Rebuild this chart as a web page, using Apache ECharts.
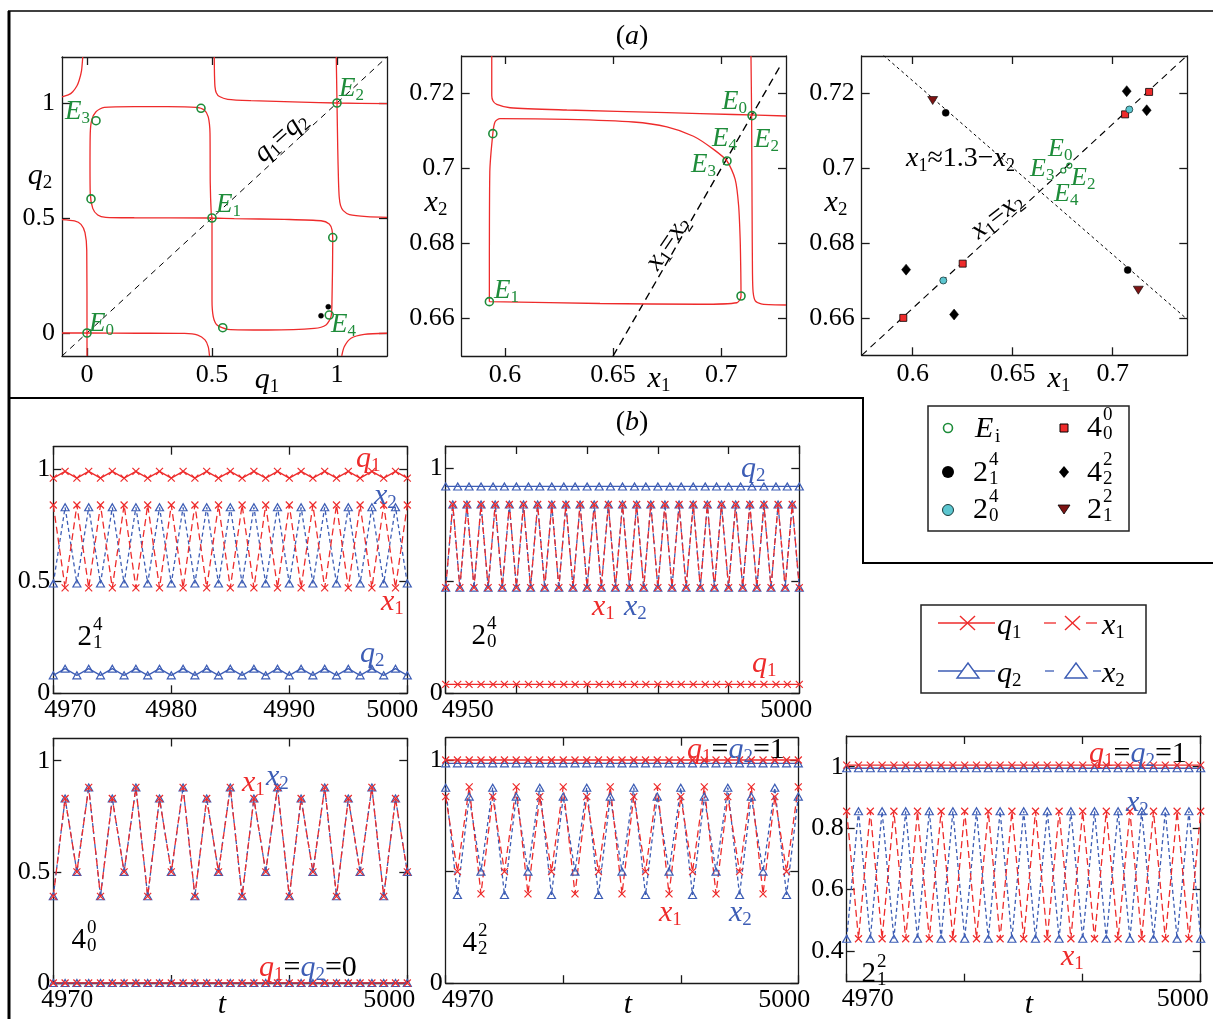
<!DOCTYPE html>
<html><head><meta charset="utf-8">
<script src="https://cdn.jsdelivr.net/npm/echarts@6/dist/echarts.min.js"></script>
<style>html,body{margin:0;padding:0;background:#fff;}#c{width:1213px;height:1019px;}</style>
</head><body><div id="c"></div>
<script>
// ===================== DATA =====================
// Panel (a) left: q1-q2 plane
const a1Diag = [[-0.1,-0.1],[1.2,1.2]];
const a1Curve1 = [[-0.1,1.027],[-0.075,1.035],[-0.057,1.049],[-0.04,1.075],[-0.031,1.1],[-0.022,1.14],[-0.017,1.2]];
const a1Curve2 = [[0.509,1.2],[0.51,1.12],[0.512,1.07],[0.517,1.045],[0.53,1.028],[0.563,1.016],[0.656,1.01],[0.856,1.004],[1.0,1.0],[1.2,0.997]];
const a1Curve3 = [[0.997,1.2],[1.0,1.0],[1.003,0.8],[1.006,0.66],[1.009,0.59],[1.014,0.555],[1.025,0.532],[1.05,0.515],[1.12,0.506],[1.2,0.503]];
const a1Curve4 = [[0.5,0.5],[0.189,0.501],[0.075,0.503],[0.043,0.513],[0.023,0.542],[0.013,0.607],[0.012,0.72],[0.013,0.868],[0.019,0.926],[0.036,0.962],[0.069,0.981],[0.189,0.984],[0.322,0.984],[0.436,0.981],[0.469,0.97],[0.485,0.94],[0.492,0.868],[0.493,0.651],[0.497,0.519],[0.5,0.5],[0.5,0.433],[0.5,0.143],[0.505,0.071],[0.52,0.035],[0.563,0.016],[0.723,0.013],[0.909,0.02],[0.956,0.035],[0.976,0.071],[0.98,0.143],[0.983,0.404],[0.98,0.448],[0.969,0.474],[0.936,0.488],[0.789,0.494],[0.589,0.497],[0.5,0.5]];
const a1Curve5 = [[-0.1,0],[0,0],[0.2,-0.001],[0.39,-0.002],[0.443,-0.009],[0.472,-0.03],[0.485,-0.06],[0.49,-0.1]];
const a1Curve6 = [[-0.1,0.493],[-0.05,0.487],[-0.024,0.472],[-0.008,0.436],[-0.001,0.36],[0,0],[0,-0.1]];
const a1Curve7 = [[1.019,-0.1],[1.029,-0.06],[1.056,-0.023],[1.109,-0.006],[1.2,-0.001]];
const a1Equilibria = [[0,0],[0.5,0.5],[1,1],[0.036,0.923],[0.456,0.977],[0.016,0.583],[0.983,0.415],[0.543,0.023],[0.969,0.078]];
const a1Dots = [[0.965,0.114],[0.936,0.075]];
const a1Ticks = [0,0.5,1];

// Panel (a) middle: x1-x2 plane
const a2Diag = [[0.65,0.65],[0.728,0.728]];
const a2Curve1 = [[0.5939,0.73],[0.5939,0.7195],[0.5945,0.7180],[0.5962,0.7171],[0.6024,0.7162],[0.6286,0.7156],[0.6749,0.7149],[0.7057,0.7144],[0.7301,0.714]];
const a2Curve2 = [[0.7138,0.73],[0.7141,0.714],[0.7143,0.69],[0.7145,0.672],[0.7148,0.667],[0.7158,0.6647],[0.7185,0.6639],[0.722,0.6637],[0.73,0.6636]];
const a2Curve3 = [[0.5928,0.6645],[0.5928,0.6723],[0.593,0.699],[0.5944,0.7093],[0.5954,0.7124],[0.5977,0.7133],[0.6286,0.7131],[0.6594,0.7124],[0.6749,0.7111],[0.6872,0.7086],[0.6965,0.7051],[0.7027,0.702],[0.7065,0.6971],[0.7081,0.69],[0.7088,0.6811],[0.7091,0.6722],[0.7092,0.666],[0.7073,0.6642],[0.6903,0.6638],[0.644,0.664],[0.5928,0.6645]];
const a2Equilibria = [[0.5928,0.6645],[0.5944,0.7093],[0.7027,0.702],[0.7092,0.666],[0.7143,0.7141]];
const a2XTicks = [0.6,0.65,0.7];
const a2YTicks = [0.66,0.68,0.7,0.72];

// Panel (a) right: attractors
const a3LineEq = [[0.5745,0.65],[0.7373,0.7302]];
const a3LineAnti = [[0.5853,0.7302],[0.7373,0.6596]];
const a3Eq = [[0.6753,0.6994],[0.6783,0.7007]];
const a3P4_0_0 = [[0.5953,0.66],[0.625,0.6745],[0.7062,0.7144],[0.7182,0.7204]];
const a3P2_0_4 = [[0.6153,0.67],[0.7083,0.7157]];
const a3P4_2_2 = [[0.5967,0.6729],[0.6207,0.6609],[0.707,0.7206],[0.717,0.7155]];
const a3P2_1_4 = [[0.6165,0.7148],[0.7075,0.6728]];
const a3P2_1_2 = [[0.61,0.7181],[0.7128,0.6674]];

// Panel (b) time series
const tB = [4970,4971,4972,4973,4974,4975,4976,4977,4978,4979,4980,4981,4982,4983,4984,4985,4986,4987,4988,4989,4990,4991,4992,4993,4994,4995,4996,4997,4998,4999,5000];
const tB2 = [4950,4951,4952,4953,4954,4955,4956,4957,4958,4959,4960,4961,4962,4963,4964,4965,4966,4967,4968,4969,4970,4971,4972,4973,4974,4975,4976,4977,4978,4979,4980,4981,4982,4983,4984,4985,4986,4987,4988,4989,4990,4991,4992,4993,4994,4995,4996,4997,4998,4999,5000];
const tB2q = [4950,4951.7,4953.3,4955,4956.7,4958.3,4960,4961.7,4963.3,4965,4966.7,4968.3,4970,4971.7,4973.3,4975,4976.7,4978.3,4980,4981.7,4983.3,4985,4986.7,4988.3,4990,4991.7,4993.3,4995,4996.7,4998.3,5000];

// 2_1^4
const b1q1 = [0.96,0.99,0.96,0.99,0.96,0.99,0.96,0.99,0.96,0.99,0.96,0.99,0.96,0.99,0.96,0.99,0.96,0.99,0.96,0.99,0.96,0.99,0.96,0.99,0.96,0.99,0.96,0.99,0.96,0.99,0.96];
const b1x1 = [0.84,0.47,0.84,0.47,0.84,0.47,0.84,0.47,0.84,0.47,0.84,0.47,0.84,0.47,0.84,0.47,0.84,0.47,0.84,0.47,0.84,0.47,0.84,0.47,0.84,0.47,0.84,0.47,0.84,0.47,0.84];
const b1x2 = [0.49,0.83,0.49,0.83,0.49,0.83,0.49,0.83,0.49,0.83,0.49,0.83,0.49,0.83,0.49,0.83,0.49,0.83,0.49,0.83,0.49,0.83,0.49,0.83,0.49,0.83,0.49,0.83,0.49,0.83,0.49];
const b1q2 = [0.08,0.11,0.08,0.11,0.08,0.11,0.08,0.11,0.08,0.11,0.08,0.11,0.08,0.11,0.08,0.11,0.08,0.11,0.08,0.11,0.08,0.11,0.08,0.11,0.08,0.11,0.08,0.11,0.08,0.11,0.08];
// 2_0^4
const b2x1 = [0.47,0.84,0.47,0.84,0.47,0.84,0.47,0.84,0.47,0.84,0.47,0.84,0.47,0.84,0.47,0.84,0.47,0.84,0.47,0.84,0.47,0.84,0.47,0.84,0.47,0.84,0.47,0.84,0.47,0.84,0.47,0.84,0.47,0.84,0.47,0.84,0.47,0.84,0.47,0.84,0.47,0.84,0.47,0.84,0.47,0.84,0.47,0.84,0.47,0.84,0.47];
const b2x2 = [0.47,0.84,0.47,0.84,0.47,0.84,0.47,0.84,0.47,0.84,0.47,0.84,0.47,0.84,0.47,0.84,0.47,0.84,0.47,0.84,0.47,0.84,0.47,0.84,0.47,0.84,0.47,0.84,0.47,0.84,0.47,0.84,0.47,0.84,0.47,0.84,0.47,0.84,0.47,0.84,0.47,0.84,0.47,0.84,0.47,0.84,0.47,0.84,0.47,0.84,0.47];
const b2q1 = [0.04,0.04,0.04,0.04,0.04,0.04,0.04,0.04,0.04,0.04,0.04,0.04,0.04,0.04,0.04,0.04,0.04,0.04,0.04,0.04,0.04,0.04,0.04,0.04,0.04,0.04,0.04,0.04,0.04,0.04,0.04];
const b2q2 = [0.92,0.92,0.92,0.92,0.92,0.92,0.92,0.92,0.92,0.92,0.92,0.92,0.92,0.92,0.92,0.92,0.92,0.92,0.92,0.92,0.92,0.92,0.92,0.92,0.92,0.92,0.92,0.92,0.92,0.92,0.92];
// 4_0^0
const b3x1 = [0.39,0.83,0.5,0.88,0.39,0.83,0.5,0.88,0.39,0.83,0.5,0.88,0.39,0.83,0.5,0.88,0.39,0.83,0.5,0.88,0.39,0.83,0.5,0.88,0.39,0.83,0.5,0.88,0.39,0.83,0.5];
const b3x2 = [0.39,0.83,0.5,0.88,0.39,0.83,0.5,0.88,0.39,0.83,0.5,0.88,0.39,0.83,0.5,0.88,0.39,0.83,0.5,0.88,0.39,0.83,0.5,0.88,0.39,0.83,0.5,0.88,0.39,0.83,0.5];
const b3q1 = [0,0,0,0,0,0,0,0,0,0,0,0,0,0,0,0,0,0,0,0,0,0,0,0,0,0,0,0,0,0,0];
const b3q2 = [0,0,0,0,0,0,0,0,0,0,0,0,0,0,0,0,0,0,0,0,0,0,0,0,0,0,0,0,0,0,0];
// 4_2^2
const b4x1 = [0.836,0.5,0.88,0.4,0.836,0.5,0.88,0.4,0.836,0.5,0.88,0.4,0.836,0.5,0.88,0.4,0.836,0.5,0.88,0.4,0.836,0.5,0.88,0.4,0.836,0.5,0.88,0.4,0.836,0.5,0.88];
const b4x2 = [0.876,0.395,0.836,0.5,0.876,0.395,0.836,0.5,0.876,0.395,0.836,0.5,0.876,0.395,0.836,0.5,0.876,0.395,0.836,0.5,0.876,0.395,0.836,0.5,0.876,0.395,0.836,0.5,0.876,0.395,0.836];
const b4q1 = [1,1,1,1,1,1,1,1,1,1,1,1,1,1,1,1,1,1,1,1,1,1,1,1,1,1,1,1,1,1,1];
const b4q2 = [0.985,0.985,0.985,0.985,0.985,0.985,0.985,0.985,0.985,0.985,0.985,0.985,0.985,0.985,0.985,0.985,0.985,0.985,0.985,0.985,0.985,0.985,0.985,0.985,0.985,0.985,0.985,0.985,0.985,0.985,0.985];
// 2_1^2
const b5x1 = [0.855,0.44,0.855,0.44,0.855,0.44,0.855,0.44,0.855,0.44,0.855,0.44,0.855,0.44,0.855,0.44,0.855,0.44,0.855,0.44,0.855,0.44,0.855,0.44,0.855,0.44,0.855,0.44,0.855,0.44,0.855];
const b5x2 = [0.44,0.855,0.44,0.855,0.44,0.855,0.44,0.855,0.44,0.855,0.44,0.855,0.44,0.855,0.44,0.855,0.44,0.855,0.44,0.855,0.44,0.855,0.44,0.855,0.44,0.855,0.44,0.855,0.44,0.855,0.44];
const b5q1 = [1.005,1.005,1.005,1.005,1.005,1.005,1.005,1.005,1.005,1.005,1.005,1.005,1.005,1.005,1.005,1.005,1.005,1.005,1.005,1.005,1.005,1.005,1.005,1.005,1.005,1.005,1.005,1.005,1.005,1.005,1.005];
const b5q2 = [0.995,0.995,0.995,0.995,0.995,0.995,0.995,0.995,0.995,0.995,0.995,0.995,0.995,0.995,0.995,0.995,0.995,0.995,0.995,0.995,0.995,0.995,0.995,0.995,0.995,0.995,0.995,0.995,0.995,0.995,0.995];

// ===================== STYLE / LAYOUT =====================
const SERIF = '"Liberation Serif","DejaVu Serif",serif';
const RED = '#ee2b2b', BLUE = '#3d5db5', GREEN = '#1e8c3a', DARKRED = '#7d1414', CYAN = '#5cc6d0', INK = '#1a1a1a';
const CROSS = 'path://M0,0L10,10M0,10L10,0';

const grids = [], xAxes = [], yAxes = [], series = [], graphics = [];

function addPanel(box, xr, yr, xt, xl, yt, yl, o) {
  const gi = grids.length;
  grids.push({left: box[0], top: box[1], width: box[2], height: box[3], show: false});
  const line = {show: true, onZero: false, lineStyle: {color: INK, width: 1.3}};
  const tick = v => ({show: true, inside: true, length: 8, customValues: v, lineStyle: {color: INK, width: 1.3}});
  const sMin = o.sMin || 0, sMax = o.sMax || 0;
  const labStyle = {fontFamily: SERIF, fontSize: o.fs, color: '#000'};
  xAxes.push({gridIndex: gi, type: 'value', position: 'bottom', min: xr[0], max: xr[1],
    axisLine: line, axisTick: tick(xt), splitLine: {show: false},
    axisLabel: Object.assign({show: true, customValues: xl, margin: o.xm || 5,
      formatter: v => (v === xl[0] && sMin) ? '{l|' + v + '}' : (v === xl[xl.length - 1] && sMax) ? '{r|' + v + '}' : String(v),
      rich: {l: Object.assign({padding: [0, 0, 0, 2 * sMin]}, labStyle), r: Object.assign({padding: [0, 2 * sMax, 0, 0]}, labStyle)}
    }, labStyle)});
  xAxes.push({gridIndex: gi, type: 'value', position: 'top', min: xr[0], max: xr[1],
    axisLine: line, axisTick: tick(xt), axisLabel: {show: false}, splitLine: {show: false}});
  yAxes.push({gridIndex: gi, type: 'value', position: 'left', min: yr[0], max: yr[1],
    axisLine: line, axisTick: tick(yt), splitLine: {show: false},
    axisLabel: Object.assign({show: true, customValues: yl, margin: o.ym || 5}, labStyle)});
  yAxes.push({gridIndex: gi, type: 'value', position: 'right', min: yr[0], max: yr[1],
    axisLine: line, axisTick: tick(yt), axisLabel: {show: false}, splitLine: {show: false}});
  return 2 * gi;
}

function lineS(ax, data, color, width, dash, z, smooth) {
  series.push({type: 'line', xAxisIndex: ax, yAxisIndex: ax, data: data, showSymbol: false, smooth: smooth || 0,
    lineStyle: {color: color, width: width, type: dash || 'solid'}, z: z || 2, silent: true});
}
function scatS(ax, data, symbol, size, fill, stroke, bw, rot, z) {
  series.push({type: 'scatter', xAxisIndex: ax, yAxisIndex: ax, data: data, symbol: symbol, symbolSize: size,
    symbolRotate: rot || 0, itemStyle: {color: fill, borderColor: stroke, borderWidth: bw, opacity: 1}, z: z || 5, silent: true});
}
function zip(t, v) { return t.map((x, i) => [x, v[i]]); }
function tsS(ax, t, v, color, dash, sym, size) {
  series.push({type: 'line', xAxisIndex: ax, yAxisIndex: ax, data: zip(t, v), showSymbol: true, showAllSymbol: true,
    symbol: sym, symbolSize: size, lineStyle: {color: color, width: 1.3, type: dash},
    itemStyle: {color: 'rgba(0,0,0,0)', borderColor: color, borderWidth: 1.2}, z: 3, silent: true});
}

// ---------- Panel (a) ----------
let ax = addPanel([62, 57, 325, 299], [-0.1, 1.2], [-0.1, 1.2], a1Ticks, a1Ticks, a1Ticks, a1Ticks, {fs: 26, xm: 6, ym: 7});
lineS(ax, a1Diag, '#000', 1, [6, 5], 1);
[a1Curve1, a1Curve2, a1Curve3, a1Curve4, a1Curve5, a1Curve6, a1Curve7].forEach(c => lineS(ax, c, RED, 1.3, 'solid', 2, 0.25));
scatS(ax, a1Equilibria, 'circle', 8, 'rgba(0,0,0,0)', GREEN, 1.6);
scatS(ax, a1Dots, 'circle', 5, '#000', '#000', 0.5);

ax = addPanel([461.7, 56, 324.3, 300], [0.58, 0.73], [0.65, 0.73], a2XTicks, a2XTicks, a2YTicks, a2YTicks, {fs: 26, xm: 6, ym: 7});
lineS(ax, a2Diag, '#000', 1.4, [8, 5], 1);
[a2Curve1, a2Curve2, a2Curve3].forEach(c => lineS(ax, c, RED, 1.3, 'solid', 2, 0.25));
scatS(ax, a2Equilibria, 'circle', 8, 'rgba(0,0,0,0)', GREEN, 1.6);

ax = addPanel([861.7, 56, 325.6, 299.3], [0.5745, 0.7373], [0.65, 0.73], a2XTicks, a2XTicks, a2YTicks, a2YTicks, {fs: 26, xm: 6, ym: 7});
lineS(ax, a3LineEq, '#000', 1.1, [7, 5], 1);
lineS(ax, a3LineAnti, '#000', 1, [3, 3], 1);
scatS(ax, a3P4_0_0, 'rect', 7, RED, '#000', 0.8);
scatS(ax, a3P2_0_4, 'circle', 7, CYAN, '#1a3a3a', 0.8);
scatS(ax, a3P4_2_2, 'diamond', [9, 11], '#000', '#000', 0.5);
scatS(ax, a3P2_1_4, 'circle', 7, '#000', '#000', 0.5);
scatS(ax, a3P2_1_2, 'triangle', [10, 8], DARKRED, '#000', 0.6, 180);
scatS(ax, a3Eq, 'circle', 5, 'rgba(0,0,0,0)', GREEN, 1.2);

// ---------- Panel (b) ----------
function bPanel(box, xr, xt, xl, yr, yt, yl, sMin, sMax, tq, q1, q2, tx, x1, x2) {
  const a = addPanel(box, xr, yr, xt, xl, yt, yl, {fs: 26, xm: 4, ym: 3, sMin: sMin, sMax: sMax});
  tsS(a, tq, q2, BLUE, 'solid', 'triangle', [8, 7]);
  tsS(a, tq, q1, RED, 'solid', CROSS, 7);
  tsS(a, tx, x2, BLUE, [4, 3], 'triangle', [8, 7]);
  tsS(a, tx, x1, RED, [7, 4], CROSS, 7);
}
const tk30 = [4970, 4980, 4990, 5000];
bPanel([53.3, 446.7, 354, 246.6], [4970, 5000], tk30, tk30, [0, 1.1], [0, 0.5, 1], [0, 0.5, 1], 17, 15, tB, b1q1, b1q2, tB, b1x1, b1x2);
bPanel([445.7, 446, 353.6, 247.3], [4950, 5000], [4950, 4960, 4970, 4980, 4990, 5000], [4950, 5000], [0, 1.1], [0, 0.5, 1], [0, 1], 22, 13, tB2q, b2q1, b2q2, tB2, b2x1, b2x2);
bPanel([53.3, 738.5, 354, 244.5], [4970, 5000], tk30, [4970, 5000], [0, 1.1], [0, 0.5, 1], [0, 0.5, 1], 14, 18, tB, b3q1, b3q2, tB, b3x1, b3x2);
bPanel([445.7, 737.7, 352.6, 245.5], [4970, 5000], tk30, [4970, 5000], [0, 1.1], [0, 0.5, 1], [0, 1], 22, 14, tB, b4q1, b4q2, tB, b4x1, b4x2);
bPanel([846.7, 736, 354, 245.7], [4970, 5000], tk30, [4970, 5000], [0.3, 1.1], [0.4, 0.6, 0.8, 1], [0.4, 0.6, 0.8, 1], 21, 18, tB, b5q1, b5q2, tB, b5x1, b5x2);

// ---------- Graphic: frames, texts, legends ----------
function R(size) {
  const sub = Math.round(size * 0.64), pad = Math.round(size * 0.5);
  const out = {};
  [['', '#000'], ['r', RED], ['b', BLUE], ['g', GREEN]].forEach(([p, c]) => {
    out[p + 'i'] = {fontFamily: SERIF, fontStyle: 'italic', fontSize: size, fill: c, color: c};
    out[p + 'n'] = {fontFamily: SERIF, fontSize: size, fill: c, color: c};
    out[p + 's'] = {fontFamily: SERIF, fontSize: sub, fill: c, color: c, padding: [pad, 0, 0, 0]};
  });
  return out;
}
function T(x, y, text, size, align, rot) {
  graphics.push({type: 'text', x: x, y: y, rotation: (rot || 0) * Math.PI / 180, z: 100, silent: true,
    style: {text: text, x: 0, y: 0, rich: R(size), fontFamily: SERIF, fontSize: size, fill: '#000',
      align: align || 'left', verticalAlign: 'middle'}});
}
function P(x, y, text, size, align, color, italic) {
  graphics.push({type: 'text', x: x, y: y, z: 100, silent: true,
    style: {text: text, x: 0, y: 0, fontFamily: SERIF, fontSize: size, fontStyle: italic ? 'italic' : 'normal', fill: color || '#000',
      align: align, verticalAlign: 'middle'}});
}
function stack(xr, cy, base, sup, sub, size) {
  const s = Math.round(size * 0.64);
  P(xr, cy, base, size, 'right');
  P(xr + 1, cy - size * 0.42, sup, s, 'left');
  P(xr + 1, cy + size * 0.2, sub, s, 'left');
}
function L(x1, y1, x2, y2, w, color, dash) {
  graphics.push({type: 'line', z: 100, silent: true, shape: {x1: x1, y1: y1, x2: x2, y2: y2},
    style: {stroke: color || '#000', lineWidth: w, lineDash: dash || null}});
}

// frames
L(8, 11, 1213, 11, 1.5);
L(9, 11, 9, 1019, 3);
L(8, 398, 864, 398, 2);
L(863, 398, 863, 564, 2);
L(863, 563, 1213, 563, 2);

// titles
T(632, 37, '{n|(}{i|a}{n|)}', 28, 'center');
T(632, 423, '{n|(}{i|b}{n|)}', 28, 'center');

// axis labels (a)
T(267, 380, '{i|q}{s|1}', 30, 'center');
T(40, 176, '{i|q}{s|2}', 30, 'center');
T(659, 379, '{i|x}{s|1}', 30, 'center');
T(436, 203, '{i|x}{s|2}', 30, 'center');
T(1059, 379, '{i|x}{s|1}', 30, 'center');
T(836, 203, '{i|x}{s|2}', 30, 'center');
// a1 labels
T(89, 324, '{gi|E}{gs|0}', 27);
T(216, 205, '{gi|E}{gs|1}', 27);
T(339, 89, '{gi|E}{gs|2}', 27);
T(65, 112, '{gi|E}{gs|3}', 27);
T(331, 325, '{gi|E}{gs|4}', 27);
T(281, 137, '{i|q}{s|1}{n|=}{i|q}{s|2}', 28, 'center', 42);
// a2 labels
T(722, 102, '{gi|E}{gs|0}', 27);
T(712, 139, '{gi|E}{gs|4}', 27);
T(754, 140, '{gi|E}{gs|2}', 27);
T(691, 165, '{gi|E}{gs|3}', 27);
T(494, 291, '{gi|E}{gs|1}', 27);
T(668, 243, '{i|x}{s|1}{n|=}{i|x}{s|2}', 28, 'center', 56);
// a3 labels
T(1048, 149, '{gi|E}{gs|0}', 26);
T(1030, 169, '{gi|E}{gs|3}', 26);
T(1071, 178, '{gi|E}{gs|2}', 26);
T(1054, 194, '{gi|E}{gs|4}', 26);
T(906, 159, '{i|x}{s|1}{n|≈1.3−}{i|x}{s|2}', 28);
T(997, 216, '{i|x}{s|1}{n|=}{i|x}{s|2}', 28, 'center', 38);

// b labels
T(356, 459, '{ri|q}{rs|1}', 30);
T(374, 496, '{bi|x}{bs|2}', 30);
T(381, 602, '{ri|x}{rs|1}', 30);
T(360, 654, '{bi|q}{bs|2}', 30);
stack(92, 637, '2', '4', '1', 29);

T(592, 607, '{ri|x}{rs|1}', 30);
T(624, 607, '{bi|x}{bs|2}', 30);
T(741, 469, '{bi|q}{bs|2}', 30);
T(752, 664, '{ri|q}{rs|1}', 30);
stack(486, 636, '2', '4', '0', 29);

T(242, 783, '{ri|x}{rs|1}', 30);
T(266, 777, '{bi|x}{bs|2}', 30);
T(259, 968, '{ri|q}{rs|1}{n|=}{bi|q}{bs|2}{n|=0}', 30);
stack(86, 940, '4', '0', '0', 29);
T(222, 1005, '{i|t}', 30, 'center');

T(687, 750, '{ri|q}{rs|1}{n|=}{bi|q}{bs|2}{n|=1}', 30);
T(659, 913, '{ri|x}{rs|1}', 30);
T(729, 913, '{bi|x}{bs|2}', 30);
stack(477, 943, '4', '2', '2', 29);
T(628, 1005, '{i|t}', 30, 'center');

T(1089, 754, '{ri|q}{rs|1}{n|=}{bi|q}{bs|2}{n|=1}', 30);
T(1126, 803, '{bi|x}{bs|2}', 30);
T(1061, 957, '{ri|x}{rs|1}', 30);
stack(876, 974, '2', '2', '1', 29);
T(1029, 1005, '{i|t}', 30, 'center');

// legend 1
graphics.push({type: 'rect', z: 100, silent: true, shape: {x: 928, y: 406, width: 201, height: 125}, style: {fill: '#fff', stroke: '#222', lineWidth: 1.5}});
graphics.push({type: 'circle', z: 101, silent: true, shape: {cx: 948, cy: 428, r: 4.5}, style: {fill: 'none', stroke: GREEN, lineWidth: 1.6}});
graphics.push({type: 'circle', z: 101, silent: true, shape: {cx: 948, cy: 472, r: 6}, style: {fill: '#000'}});
graphics.push({type: 'circle', z: 101, silent: true, shape: {cx: 948, cy: 510, r: 5.5}, style: {fill: CYAN, stroke: '#1a3a3a', lineWidth: 1}});
graphics.push({type: 'rect', z: 101, silent: true, shape: {x: 1060, y: 424, width: 8, height: 8}, style: {fill: RED, stroke: '#000', lineWidth: 1}});
graphics.push({type: 'polygon', z: 101, silent: true, shape: {points: [[1064, 466], [1069, 472], [1064, 478], [1059, 472]]}, style: {fill: '#000'}});
graphics.push({type: 'polygon', z: 101, silent: true, shape: {points: [[1058, 505], [1070, 505], [1064, 514]]}, style: {fill: DARKRED, stroke: '#000', lineWidth: 0.8}});
T(975, 429, '{i|E}{n|}', 30);
P(995, 437, 'i', 19, 'left');
stack(988, 473, '2', '4', '1', 30);
stack(988, 510, '2', '4', '0', 30);
stack(1102, 428, '4', '0', '0', 30);
stack(1102, 473, '4', '2', '2', 30);
stack(1102, 510, '2', '2', '1', 30);

// legend 2
graphics.push({type: 'rect', z: 100, silent: true, shape: {x: 921, y: 605, width: 225, height: 88}, style: {fill: '#fff', stroke: '#222', lineWidth: 1.5}});
L(938, 623, 995, 623, 1.3, RED);
L(960, 616, 975, 630, 1.4, RED); L(960, 630, 975, 616, 1.4, RED);
T(997, 626, '{i|q}{s|1}', 30);
L(1044, 623, 1056, 623, 1.3, RED); L(1086, 623, 1097, 623, 1.3, RED);
L(1065, 616, 1080, 630, 1.4, RED); L(1065, 630, 1080, 616, 1.4, RED);
T(1102, 626, '{i|x}{s|1}', 30);
L(938, 671, 995, 671, 1.3, BLUE);
graphics.push({type: 'polygon', z: 101, silent: true, shape: {points: [[968, 663], [979, 678], [957, 678]]}, style: {fill: '#fff', stroke: BLUE, lineWidth: 1.4}});
T(997, 674, '{i|q}{s|2}', 30);
L(1045, 671, 1054, 671, 1.3, BLUE); L(1093, 671, 1101, 671, 1.3, BLUE);
graphics.push({type: 'polygon', z: 101, silent: true, shape: {points: [[1076, 663], [1087, 678], [1065, 678]]}, style: {fill: '#fff', stroke: BLUE, lineWidth: 1.4}});
T(1102, 674, '{i|x}{s|2}', 30);

const chart = echarts.init(document.getElementById('c'), null, {renderer: 'canvas', width: 1213, height: 1019});
chart.setOption({
  animation: false,
  backgroundColor: '#fff',
  grid: grids, xAxis: xAxes, yAxis: yAxes, series: series, graphic: {elements: graphics}
});
</script>
</body></html>
